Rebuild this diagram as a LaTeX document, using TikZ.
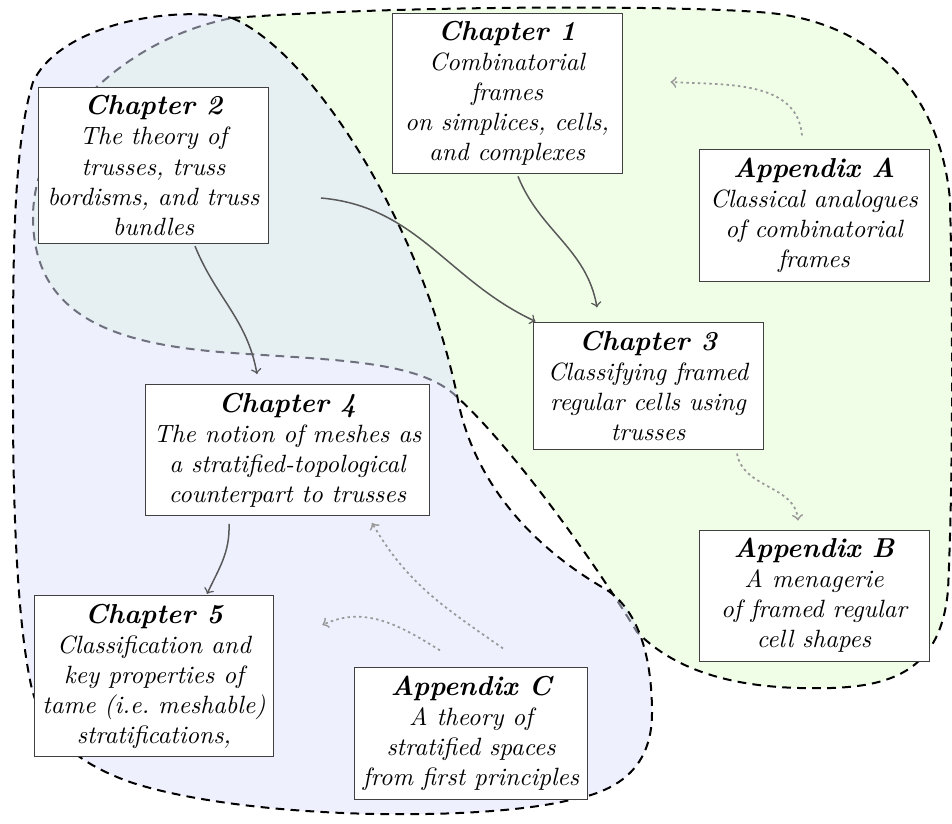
\documentclass[tikz,border=0pt]{standalone}
\usetikzlibrary{calc}
\definecolor{regiongreen}{RGB}{240,254,232}
\definecolor{regionblue}{RGB}{221,225,253}
\newcommand\chaptitle[1]{{\fontsize{10.95pt}{12pt}\selectfont\textbf{#1}}}
\begin{document}
\begin{tikzpicture}[x=0.4pt,y=-0.4pt,
  box/.style={draw=black!75, fill=white, align=center, font=\itshape,
    minimum width=92pt, inner sep=3.33pt},
  widebox/.style={box, minimum width=113pt},
  region/.style={draw=black, line width=0.8pt, dash pattern=on 3.5pt off 2.5pt},
  dep/.style={->, draw=black!65, line width=0.6pt},
  weakdep/.style={->, draw=black!40, line width=0.7pt, dash pattern=on 1pt off 1.3pt}]
\useasboundingbox (0,0) rectangle (952,823);

% combinatorial part (its boundary shows grey where the topological part covers it)
\path[region, fill=regiongreen]
  (232,18) .. controls (400,5) and (690,5) .. (770,13)
  .. controls (870,23) and (940,90) .. (950,200)
  .. controls (953,330) and (953,480) .. (948,590)
  .. controls (940,680) and (880,690) .. (800,688)
  .. controls (720,686) and (670,665) .. (637,632)
  .. controls (590,555) and (510,445) .. (457,397)
  .. controls (420,360) and (330,360) .. (233,353)
  .. controls (120,345) and (33,320) .. (33,217)
  .. controls (33,130) and (120,40) .. (232,18) -- cycle;

% topological part
\def\topopart{(232,18) .. controls (310,50) and (420,220) .. (457,395)
  .. controls (470,470) and (520,540) .. (607,590)
  .. controls (640,612) and (652,660) .. (652,713)
  .. controls (652,770) and (615,792) .. (570,800)
  .. controls (480,822) and (250,820) .. (133,783)
  .. controls (80,765) and (40,735) .. (30,680)
  .. controls (18,620) and (13,520) .. (13,400)
  .. controls (13,270) and (12,150) .. (33,82)
  .. controls (60,25) and (170,5) .. (232,18) -- cycle}
\fill[regionblue, opacity=0.5] \topopart;
\draw[region] \topopart;

% chapters and appendices
\node[box] (ch1) at (507,93.5) {\chaptitle{Chapter 1}\\ Combinatorial\\ frames\\ on simplices, cells,\\ and complexes};
\node[box] (ch2) at (153.5,165.5) {\chaptitle{Chapter 2}\\ The theory of\\ trusses, truss\\ bordisms, and truss\\ bundles};
\node[box] (appA) at (814,215.5) {\chaptitle{Appendix A}\\ Classical analogues\\ of combinatorial\\ frames};
\node[box] (ch3) at (648,386) {\chaptitle{Chapter 3}\\ Classifying framed\\ regular cells using\\ trusses};
\node[widebox] (ch4) at (287.5,450) {\chaptitle{Chapter 4}\\ The notion of meshes as\\ a stratified-topological\\ counterpart to trusses};
\node[box] (ch5) at (154,676) {\chaptitle{Chapter 5}\\ Classification and\\ key properties of\\ tame (i.e.\ meshable)\\ stratifications,};
\node[box] (appC) at (471,733.5) {\chaptitle{Appendix C}\\ A theory of\\ stratified spaces\\ from first principles};
\node[box] (appB) at (814,595.5) {\chaptitle{Appendix B}\\ A menagerie\\ of framed regular\\ cell shapes};

% dependencies
\draw[dep] ($(ch1.south)+(11,2)$) to[out=-68,in=100] ($(ch3.north)+(-51,-15)$);
\draw[dep] ($(ch2.east)+(52,32.5)$) to[out=-5,in=155] ($(ch3.north west)+(3,-1)$);
\draw[dep] ($(ch2.south)+(41.5,2)$) to[out=-68,in=100] ($(ch4.north)+(-30.5,-10)$);
\draw[dep] ($(ch4.south)+(-58.5,8)$) to[out=-88,in=65] ($(ch5.north)+(53,-1)$);

\draw[weakdep] ($(appA.north)+(-12,-14)$) to[out=95,in=-3] ($(ch1.east)+(48,-11.5)$);
\draw[weakdep] ($(ch3.south)+(89,4)$) to[out=-80,in=95] ($(appB.north)+(-16,-9)$);
\draw[weakdep] ($(appC.north)+(32,-19)$) to[out=145,in=-60] ($(ch4.south)+(84.5,7)$);
\draw[weakdep] ($(appC.north)+(-31,-17)$) to[out=148,in=25] ($(ch5.east)+(48,-51)$);
\end{tikzpicture}
\end{document}
